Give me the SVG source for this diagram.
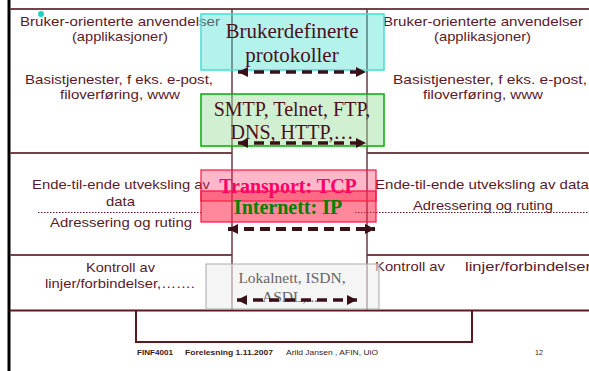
<svg xmlns="http://www.w3.org/2000/svg" width="589" height="371" viewBox="0 0 589 371">
<style>
.ln{stroke:#72434c;stroke-width:2;fill:none}
.vl{stroke:#6b3a45;stroke-width:1.5;fill:none}
.ct{font-family:"Liberation Sans","DejaVu Sans",sans-serif;font-size:13.5px;fill:#5a1a2a}
.bt{font-family:"Liberation Serif","DejaVu Serif",serif;fill:#4a1020;text-anchor:middle}
.ar{stroke:#3a1018;fill:none;stroke-dasharray:10 6}
.ft{font-family:"Liberation Sans","DejaVu Sans",sans-serif;font-size:7.5px;fill:#3a1a20}
.dot{stroke:#5a1a2a;stroke-width:1;stroke-dasharray:1.5 1.5}
</style>
<defs>
<marker id="ah" viewBox="0 0 10 10" refX="10" refY="5" markerUnits="userSpaceOnUse" markerWidth="11" markerHeight="10" orient="auto-start-reverse">
<path d="M0,0 L10,5 L0,10 z" fill="#3a1018"/>
</marker>
</defs>
<rect width="589" height="371" fill="#ffffff"/>
<g id="frame">
<line x1="9" y1="0" x2="9" y2="371" stroke="#000" stroke-width="3"/>
<line class="ln" x1="10" y1="9" x2="589" y2="9"/>
<line class="ln" x1="10" y1="153" x2="232" y2="153"/>
<line class="ln" x1="367" y1="153" x2="589" y2="153"/>
<line class="ln" x1="10" y1="255" x2="232" y2="255"/>
<line class="ln" x1="367" y1="255" x2="589" y2="255"/>
<line x1="10" y1="310.5" x2="589" y2="310.5" stroke="#5a1a20" stroke-width="2"/>
<line class="vl" x1="232" y1="9" x2="232" y2="310"/>
<line class="vl" x1="367" y1="9" x2="367" y2="310"/>
<line class="dot" x1="38" y1="212.5" x2="201" y2="212.5"/>
<line class="dot" x1="355" y1="212.5" x2="589" y2="212.5"/>
<circle cx="41" cy="14" r="3" fill="#20d0c8"/>
<path d="M136,311 V342 H472 V311" fill="none" stroke="#5a1a20" stroke-width="2"/>
</g>
<g id="left-labels">
<text class="ct" x="20" y="26" textLength="200" lengthAdjust="spacingAndGlyphs">Bruker-orienterte anvendelser</text>
<text class="ct" x="72" y="41" textLength="96" lengthAdjust="spacingAndGlyphs">(applikasjoner)</text>
<text class="ct" x="25" y="84" textLength="188" lengthAdjust="spacingAndGlyphs">Basistjenester, f eks. e-post,</text>
<text class="ct" x="60" y="99" textLength="120" lengthAdjust="spacingAndGlyphs">filoverføring, www</text>
<text class="ct" x="32" y="189" textLength="178" lengthAdjust="spacingAndGlyphs">Ende-til-ende utveksling av</text>
<text class="ct" x="106" y="206" textLength="29" lengthAdjust="spacingAndGlyphs">data</text>
<text class="ct" x="50" y="227" textLength="142" lengthAdjust="spacingAndGlyphs">Adressering og ruting</text>
<text class="ct" x="86" y="272" textLength="69" lengthAdjust="spacingAndGlyphs">Kontroll av</text>
<text class="ct" x="45" y="288" textLength="150" lengthAdjust="spacingAndGlyphs">linjer/forbindelser,…….</text>
</g>
<g id="right-labels">
<text class="ct" x="383" y="26" textLength="200" lengthAdjust="spacingAndGlyphs">Bruker-orienterte anvendelser</text>
<text class="ct" x="434" y="41" textLength="97" lengthAdjust="spacingAndGlyphs">(applikasjoner)</text>
<text class="ct" x="393" y="84" textLength="194" lengthAdjust="spacingAndGlyphs">Basistjenester, f eks. e-post,</text>
<text class="ct" x="423" y="99" textLength="120" lengthAdjust="spacingAndGlyphs">filoverføring, www</text>
<text class="ct" x="375" y="189" textLength="218" lengthAdjust="spacingAndGlyphs">Ende-til-ende utveksling av data,</text>
<text class="ct" x="413" y="210" textLength="140" lengthAdjust="spacingAndGlyphs">Adressering og ruting</text>
<text class="ct" x="375" y="271" textLength="70" lengthAdjust="spacingAndGlyphs">Kontroll av</text>
<text class="ct" x="465" y="271" textLength="126" lengthAdjust="spacingAndGlyphs">linjer/forbindelser</text>
</g>
<g id="brukerdefinerte">
<rect x="201" y="14" width="183" height="56" fill="#40e0d0" fill-opacity="0.4" stroke="#40e0d0" stroke-width="1.5"/>
<text class="bt" x="292" y="38" font-size="21">Brukerdefinerte</text>
<text class="bt" x="292" y="62" font-size="21">protokoller</text>
</g>
<g id="smtp">
<rect x="201" y="94" width="183" height="52" fill="#99dd99" fill-opacity="0.45" stroke="#00b000" stroke-width="1.5"/>
<text class="bt" x="292" y="116" font-size="20">SMTP, Telnet, FTP,</text>
<text class="bt" x="292" y="139" font-size="20">DNS, HTTP,…</text>
</g>
<g id="transport">
<rect x="201" y="170" width="175" height="31" fill="#ff3366" fill-opacity="0.35" stroke="#ff1040" stroke-width="1.2"/>
<rect x="201" y="191" width="175" height="31" fill="#ff2848" fill-opacity="0.55" stroke="#ff1040" stroke-width="1.2"/>
<text class="bt" x="288" y="193" font-size="20" font-weight="bold" style="fill:#ff0066">Transport: TCP</text>
<text class="bt" x="288" y="214" font-size="20" font-weight="bold" style="fill:#008000">Internett: IP</text>
</g>
<g id="lokalnett">
<rect x="206" y="264" width="173" height="45" fill="#eeeeee" fill-opacity="0.6" stroke="#aaaaaa" stroke-width="1"/>
<text class="bt" x="292" y="283" font-size="15.5" style="fill:#666666">Lokalnett, ISDN,</text>
<text class="bt" x="290" y="302" font-size="15.5" style="fill:#666666">ASDL,...</text>
</g>
<g id="connectors">
<line class="ar" x1="238" y1="72" x2="366" y2="72" stroke-width="3.5" marker-start="url(#ah)" marker-end="url(#ah)"/>
<line class="ar" x1="238" y1="143" x2="366" y2="143" stroke-width="3.5" marker-start="url(#ah)" marker-end="url(#ah)"/>
<line class="ar" x1="228" y1="229" x2="375" y2="229" stroke-width="4" stroke-dasharray="12 8" marker-start="url(#ah)" marker-end="url(#ah)"/>
<line class="ar" x1="237" y1="300" x2="357" y2="300" stroke-width="3.5" stroke-dasharray="14 12" marker-start="url(#ah)" marker-end="url(#ah)"/>
</g>
<g id="footer">
<text class="ft" x="137" y="355" font-weight="bold" textLength="36" lengthAdjust="spacingAndGlyphs">FINF4001</text>
<text class="ft" x="185" y="355" font-weight="bold" textLength="88" lengthAdjust="spacingAndGlyphs">Forelesning 1.11.2007</text>
<text class="ft" x="286" y="355" textLength="92" lengthAdjust="spacingAndGlyphs">Arild Jansen , AFIN, UiO</text>
<text class="ft" x="535" y="355" textLength="8" lengthAdjust="spacingAndGlyphs">12</text>
</g>
</svg>
